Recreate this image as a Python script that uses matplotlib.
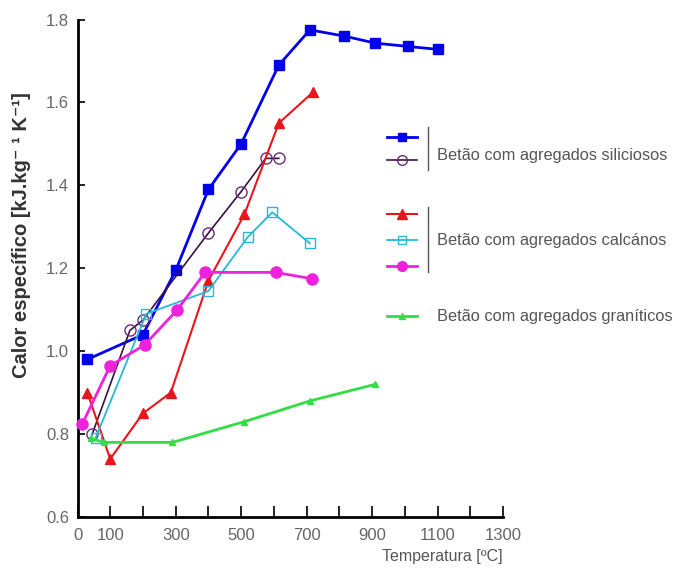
import matplotlib
matplotlib.use("Agg")
import matplotlib.pyplot as plt
from matplotlib.lines import Line2D

plt.rcParams['font.family'] = ['Liberation Sans', 'DejaVu Sans']

# Betão com agregados siliciosos (duas séries)
sil1_t = [30, 200, 300, 400, 500, 615, 710, 815, 910, 1010, 1100]
sil1_c = [0.98, 1.04, 1.195, 1.39, 1.50, 1.69, 1.775, 1.76, 1.743, 1.735, 1.728]
sil2_t = [45, 160, 200, 400, 500, 575, 615]
sil2_c = [0.80, 1.05, 1.075, 1.285, 1.385, 1.465, 1.465]

# Betão com agregados calcários (três séries)
cal1_t = [30, 100, 200, 285, 400, 510, 615, 720]
cal1_c = [0.90, 0.74, 0.85, 0.90, 1.17, 1.33, 1.55, 1.625]
cal2_t = [55, 210, 400, 520, 595, 710]
cal2_c = [0.79, 1.09, 1.145, 1.275, 1.335, 1.26]
cal3_t = [15, 100, 205, 305, 390, 605, 715]
cal3_c = [0.825, 0.965, 1.015, 1.10, 1.19, 1.19, 1.175]

# Betão com agregados graníticos
gra_t = [40, 80, 290, 510, 710, 910]
gra_c = [0.79, 0.78, 0.78, 0.83, 0.88, 0.92]

x_ticks = list(range(0, 1400, 100))
x_labels = ['0', '100', '', '300', '', '500', '', '700', '', '900', '', '1100', '', '1300']
y_ticks = [0.6, 0.8, 1.0, 1.2, 1.4, 1.6, 1.8]

series = [
    (sil1_t, sil1_c, dict(color='#0000ee', marker='s', mfc='#0000ee', lw=2.0, ms=7)),
    (sil2_t, sil2_c, dict(color='#3b1040', marker='o', mfc='none', mec='#6a2a7a', lw=1.2, ms=8)),
    (cal1_t, cal1_c, dict(color='#e8161c', marker='^', mfc='#e8161c', lw=1.5, ms=7)),
    (cal2_t, cal2_c, dict(color='#27b8d8', marker='s', mfc='none', lw=1.3, ms=7)),
    (cal3_t, cal3_c, dict(color='#ee22dd', marker='o', mfc='#ee22dd', lw=2.0, ms=8)),
    (gra_t, gra_c, dict(color='#33dd44', marker='^', mfc='#33dd44', lw=2.0, ms=5)),
]

fig = plt.figure(figsize=(6.83, 5.72), dpi=100)
ax = fig.add_axes([77.5 / 683, 1 - 517 / 572, (503 - 77.5) / 683, (517 - 19.5) / 572])

for t, c, st in series:
    ax.plot(t, c, linestyle='-', clip_on=False, zorder=3, **st)

ax.set_xlim(0, 1300)
ax.set_ylim(0.6, 1.8)
ax.set_xticks(x_ticks)
ax.set_xticklabels(x_labels)
ax.set_yticks(y_ticks)
ax.set_yticklabels([f'{v:.1f}' for v in y_ticks])
ax.spines['top'].set_visible(False)
ax.spines['right'].set_visible(False)
for s in ('left', 'bottom'):
    ax.spines[s].set_linewidth(2)
ax.tick_params(axis='x', direction='in', length=8, width=1.2, labelsize=12,
               labelcolor='#666666', pad=8)
ax.tick_params(axis='y', direction='in', length=5, width=1.2, labelsize=12,
               labelcolor='#666666', pad=6)

ax.set_ylabel('Calor específico [kJ.kg⁻ ¹ K⁻¹]', fontsize=14.5, fontweight='bold',
              color='#333333')
ax.yaxis.set_label_coords(-0.11, 0.567)
fig.text(503 / 683, 1 - 557 / 572, 'Temperatura [ºC]', ha='right', va='center',
         fontsize=11.5, color='#555555')

# legenda manual
legend_sizes = [6, 7, 7, 6, 7, 5]
for y_px, ms, (_, _, st) in zip([137, 160, 214, 240, 266, 316], legend_sizes, series):
    yf = 1 - y_px / 572
    xs = [387 / 683, 402 / 683, 417 / 683]
    kw = dict(st)
    kw['ms'] = ms
    fig.add_artist(Line2D(xs, [yf] * 3, transform=fig.transFigure, linestyle='-',
                          markevery=[1], **kw))

for y0, y1 in [(127, 170), (207, 272)]:
    fig.add_artist(Line2D([428 / 683, 428 / 683], [1 - y0 / 572, 1 - y1 / 572],
                          transform=fig.transFigure, color='#555555', lw=1))

leg_kw = dict(ha='left', va='center', fontsize=11.8, color='#555555')
fig.text(437 / 683, 1 - 155 / 572, 'Betão com agregados siliciosos', **leg_kw)
fig.text(437 / 683, 1 - 241 / 572, 'Betão com agregados calcános', **leg_kw)
fig.text(437 / 683, 1 - 317 / 572, 'Betão com agregados graníticos', **leg_kw)

fig.savefig('out.png', dpi=100)
